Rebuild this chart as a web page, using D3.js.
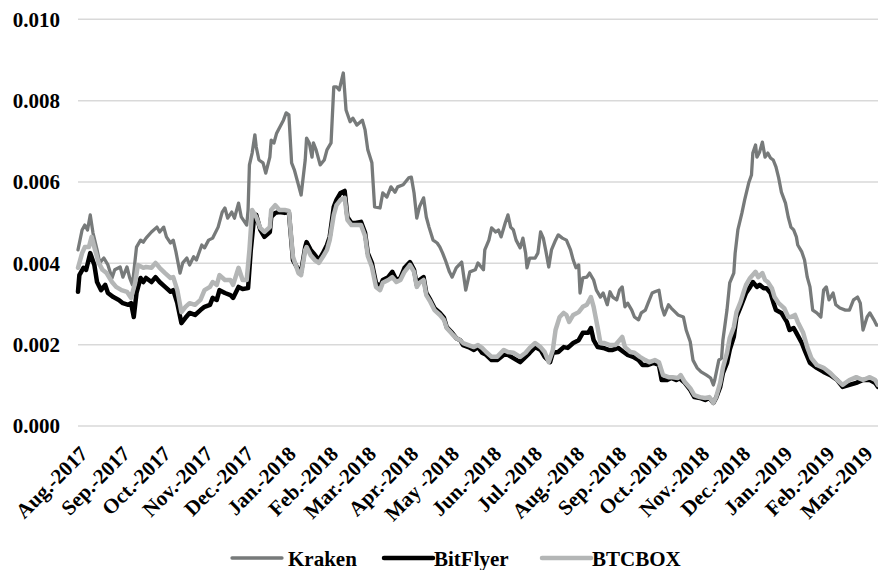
<!DOCTYPE html>
<html>
<head>
<meta charset="utf-8">
<script src="https://cdn.jsdelivr.net/npm/d3@7"></script>
<style>
  body { margin: 0; background: #fff; }
  text { font-family: "Liberation Serif", "Times New Roman", serif; font-weight: bold; fill: #000; }
</style>
</head>
<body>
<svg id="chart" width="878" height="570"></svg>
<script>
// day offsets counted from 1 Aug 2017
var krakenDays = [0,3,5,7,9,11,14,16,19,22,25,27,31,33,36,38,40,43,46,48,50,54,58,60,63,65,68,70,72,75,77,80,82,85,87,91,93,96,99,103,106,108,110,113,115,118,120,124,125,126,128,130,131,133,136,138,141,142,144,146,148,151,153,155,157,159,162,164,167,168,170,172,173,175,178,181,183,186,188,190,192,195,197,200,202,205,209,211,213,216,218,222,224,227,230,233,235,239,243,245,247,249,251,254,256,258,261,264,266,268,270,273,275,278,282,285,288,292,294,298,299,302,304,307,309,311,314,316,318,320,322,325,327,329,330,332,336,338,340,342,344,346,348,351,353,356,359,362,364,366,368,369,371,374,376,379,381,384,386,389,391,393,396,398,400,402,404,407,409,412,414,417,419,422,424,427,429,431,434,436,439,441,445,447,450,452,455,458,462,465,467,468,471,473,474,477,479,482,483,485,488,490,493,495,496,498,499,501,503,505,507,509,511,513,515,517,520,522,524,526,528,529,532,534,536,538,540,543,546,548,550,552,555,557,560,564,567,570,573,575,577,580,582,585,587,588];
var krakenValues = [0.00433,0.00482,0.00494,0.00482,0.00519,0.00475,0.00433,0.00401,0.00413,0.00396,0.00364,0.00384,0.00391,0.00366,0.00391,0.00364,0.00347,0.00440,0.00457,0.00452,0.00462,0.00477,0.00489,0.00477,0.00489,0.00465,0.00450,0.00457,0.00428,0.00376,0.00401,0.00413,0.00396,0.00416,0.00408,0.00445,0.00438,0.00457,0.00462,0.00489,0.00526,0.00536,0.00511,0.00526,0.00511,0.00548,0.00514,0.00494,0.00531,0.00642,0.00671,0.00716,0.00686,0.00654,0.00647,0.00622,0.00661,0.00703,0.00696,0.00720,0.00733,0.00752,0.00770,0.00765,0.00647,0.00630,0.00593,0.00568,0.00654,0.00708,0.00696,0.00661,0.00696,0.00679,0.00642,0.00654,0.00679,0.00696,0.00834,0.00834,0.00826,0.00868,0.00777,0.00748,0.00757,0.00740,0.00752,0.00728,0.00679,0.00647,0.00539,0.00536,0.00573,0.00563,0.00588,0.00575,0.00588,0.00593,0.00610,0.00612,0.00573,0.00511,0.00539,0.00561,0.00514,0.00489,0.00457,0.00450,0.00440,0.00425,0.00408,0.00379,0.00366,0.00389,0.00403,0.00334,0.00379,0.00384,0.00401,0.00384,0.00433,0.00457,0.00487,0.00477,0.00482,0.00465,0.00499,0.00519,0.00489,0.00482,0.00457,0.00438,0.00462,0.00425,0.00389,0.00413,0.00413,0.00425,0.00477,0.00462,0.00428,0.00391,0.00433,0.00457,0.00470,0.00462,0.00457,0.00433,0.00408,0.00389,0.00396,0.00327,0.00364,0.00366,0.00376,0.00359,0.00334,0.00317,0.00327,0.00298,0.00330,0.00317,0.00310,0.00334,0.00342,0.00293,0.00302,0.00285,0.00268,0.00261,0.00278,0.00285,0.00302,0.00327,0.00330,0.00334,0.00293,0.00273,0.00298,0.00290,0.00280,0.00273,0.00268,0.00236,0.00207,0.00162,0.00143,0.00133,0.00125,0.00118,0.00101,0.00113,0.00162,0.00167,0.00211,0.00285,0.00352,0.00376,0.00425,0.00482,0.00524,0.00556,0.00598,0.00617,0.00671,0.00691,0.00661,0.00674,0.00698,0.00661,0.00671,0.00659,0.00654,0.00637,0.00610,0.00575,0.00548,0.00514,0.00489,0.00482,0.00465,0.00445,0.00428,0.00408,0.00366,0.00342,0.00285,0.00278,0.00268,0.00334,0.00342,0.00310,0.00327,0.00298,0.00290,0.00285,0.00285,0.00310,0.00317,0.00302,0.00236,0.00268,0.00278,0.00261,0.00248,0.00248];

var bitflyerDays = [0,1,4,6,9,12,14,17,20,22,26,30,33,37,39,41,43,46,48,50,54,57,60,64,68,70,73,76,79,82,86,90,93,97,99,102,104,108,112,114,118,121,125,127,129,131,134,137,141,142,145,148,152,155,158,162,164,167,168,171,174,177,180,183,185,188,190,193,196,198,201,204,208,211,213,216,219,222,224,228,231,234,237,240,244,247,249,251,254,256,259,262,266,269,271,275,278,281,283,287,291,294,297,300,304,308,313,316,320,325,329,332,336,340,343,347,349,353,357,360,364,368,371,375,377,379,382,386,390,393,397,401,404,408,412,415,419,423,427,429,433,436,440,442,446,450,453,457,461,464,467,469,472,474,477,479,482,484,487,489,491,494,496,499,501,504,506,509,511,513,517,521,523,526,528,532,534,538,543,548,553,558,562,567,572,577,582,586,588];
var bitflyerValues = [0.00330,0.00371,0.00389,0.00384,0.00425,0.00396,0.00354,0.00334,0.00347,0.00327,0.00317,0.00310,0.00302,0.00298,0.00302,0.00268,0.00327,0.00364,0.00354,0.00364,0.00354,0.00366,0.00354,0.00342,0.00330,0.00334,0.00302,0.00253,0.00266,0.00278,0.00273,0.00285,0.00293,0.00298,0.00315,0.00310,0.00334,0.00327,0.00322,0.00315,0.00342,0.00337,0.00339,0.00433,0.00499,0.00519,0.00482,0.00465,0.00477,0.00514,0.00524,0.00526,0.00524,0.00526,0.00408,0.00384,0.00379,0.00440,0.00452,0.00433,0.00421,0.00408,0.00425,0.00445,0.00465,0.00539,0.00556,0.00573,0.00578,0.00514,0.00499,0.00499,0.00502,0.00475,0.00425,0.00401,0.00352,0.00342,0.00359,0.00366,0.00379,0.00359,0.00364,0.00389,0.00403,0.00384,0.00347,0.00359,0.00366,0.00327,0.00310,0.00290,0.00278,0.00266,0.00243,0.00229,0.00216,0.00211,0.00199,0.00194,0.00187,0.00194,0.00180,0.00175,0.00162,0.00162,0.00175,0.00175,0.00167,0.00157,0.00170,0.00180,0.00194,0.00187,0.00170,0.00157,0.00180,0.00182,0.00194,0.00192,0.00204,0.00211,0.00229,0.00229,0.00241,0.00211,0.00194,0.00192,0.00187,0.00187,0.00192,0.00182,0.00175,0.00170,0.00162,0.00150,0.00150,0.00155,0.00150,0.00113,0.00113,0.00118,0.00113,0.00118,0.00106,0.00089,0.00071,0.00069,0.00064,0.00069,0.00057,0.00069,0.00096,0.00130,0.00155,0.00187,0.00219,0.00268,0.00293,0.00310,0.00327,0.00342,0.00354,0.00342,0.00347,0.00339,0.00339,0.00327,0.00305,0.00285,0.00278,0.00256,0.00236,0.00241,0.00229,0.00204,0.00187,0.00155,0.00143,0.00133,0.00125,0.00113,0.00096,0.00101,0.00106,0.00113,0.00113,0.00106,0.00096];

var btcboxDays = [0,3,5,8,10,12,15,18,21,25,28,32,36,39,42,44,48,50,54,57,60,64,68,70,73,76,79,82,86,90,93,97,99,102,104,108,112,114,118,121,124,126,128,131,134,137,141,142,145,148,152,155,158,162,164,167,168,171,174,177,180,183,185,188,190,193,196,198,201,204,208,211,213,216,219,222,224,228,231,234,237,240,244,247,249,251,254,256,259,262,266,269,271,275,278,281,283,287,291,294,297,300,304,308,313,316,320,325,329,332,336,340,343,346,349,351,354,357,359,361,364,368,371,374,377,379,382,384,387,391,395,398,400,402,406,409,413,417,420,424,427,430,434,437,441,443,446,450,453,457,461,464,467,469,472,474,477,479,482,484,487,489,491,494,498,500,503,505,507,510,512,515,519,522,524,527,529,533,536,539,543,548,553,558,562,567,572,577,582,586,588];
var btcboxValues = [0.00389,0.00425,0.00440,0.00440,0.00465,0.00440,0.00403,0.00384,0.00376,0.00354,0.00342,0.00334,0.00330,0.00315,0.00352,0.00396,0.00389,0.00391,0.00389,0.00401,0.00389,0.00376,0.00364,0.00366,0.00334,0.00280,0.00293,0.00302,0.00298,0.00310,0.00334,0.00342,0.00354,0.00347,0.00371,0.00359,0.00359,0.00347,0.00389,0.00359,0.00359,0.00433,0.00531,0.00514,0.00487,0.00477,0.00489,0.00531,0.00543,0.00531,0.00531,0.00529,0.00416,0.00376,0.00371,0.00433,0.00440,0.00420,0.00408,0.00401,0.00416,0.00433,0.00457,0.00519,0.00543,0.00556,0.00561,0.00507,0.00494,0.00494,0.00494,0.00467,0.00418,0.00391,0.00342,0.00334,0.00352,0.00359,0.00366,0.00354,0.00359,0.00379,0.00396,0.00379,0.00342,0.00352,0.00359,0.00322,0.00305,0.00285,0.00273,0.00261,0.00241,0.00226,0.00216,0.00211,0.00204,0.00199,0.00194,0.00199,0.00192,0.00182,0.00170,0.00170,0.00187,0.00182,0.00180,0.00170,0.00180,0.00192,0.00204,0.00194,0.00182,0.00157,0.00187,0.00236,0.00268,0.00278,0.00273,0.00256,0.00273,0.00280,0.00293,0.00298,0.00317,0.00293,0.00241,0.00204,0.00204,0.00199,0.00199,0.00211,0.00219,0.00194,0.00182,0.00180,0.00170,0.00162,0.00157,0.00162,0.00157,0.00125,0.00120,0.00120,0.00118,0.00125,0.00108,0.00093,0.00076,0.00071,0.00069,0.00071,0.00057,0.00071,0.00106,0.00143,0.00180,0.00216,0.00243,0.00280,0.00305,0.00327,0.00347,0.00364,0.00379,0.00366,0.00376,0.00359,0.00354,0.00339,0.00317,0.00302,0.00290,0.00268,0.00268,0.00273,0.00256,0.00229,0.00194,0.00167,0.00150,0.00143,0.00130,0.00113,0.00101,0.00113,0.00120,0.00113,0.00120,0.00113,0.00101];

var monthLabels = ["Aug.-2017","Sep.-2017","Oct.-2017","Nov.-2017","Dec.-2017","Jan.-2018","Feb.-2018","Mar.-2018","Apr.-2018","May -2018","Jun.-2018","Jul.-2018","Aug.-2018","Sep.-2018","Oct.-2018","Nov.-2018","Dec.-2018","Jan.-2019","Feb.-2019","Mar.-2019"];
var yTicks = [0, 0.002, 0.004, 0.006, 0.008, 0.010];

var seriesNames = ["Kraken", "BitFlyer", "BTCBOX"];
var seriesColors = ["#777a7a", "#000000", "#b4b6b6"];
var seriesWidths = [3.3, 4.5, 4.5];

var startDate = new Date(2017, 7, 1);
function dayToDate(d) { return d3.timeDay.offset(startDate, d); }

var svg = d3.select('#chart');

var x = d3.scaleTime().domain([startDate, dayToDate(588)]).range([78, 878]);
var y = d3.scaleLinear().domain([0, 0.010]).range([426, 19.3]);

// gridlines
svg.append('g').selectAll('line')
    .data(yTicks)
    .enter().append('line')
    .attr('x1', 78).attr('x2', 878)
    .attr('y1', function(d){ return y(d); })
    .attr('y2', function(d){ return y(d); })
    .attr('stroke', '#d9d9d9')
    .attr('stroke-width', 1.5);

// y labels
svg.append('g').selectAll('text')
    .data(yTicks)
    .enter().append('text')
    .attr('x', 60)
    .attr('y', function(d){ return y(d); })
    .attr('dy', '0.35em')
    .attr('text-anchor', 'end')
    .style('font-size', '21px')
    .text(d3.format('.3f'));

// x labels, rotated
svg.append('g').selectAll('text')
    .data(monthLabels)
    .enter().append('text')
    .attr('transform', function(d, i){
        var tx = x(d3.timeMonth.offset(startDate, i)) + 11;
        return 'translate(' + tx + ',455)rotate(-45)';
    })
    .attr('text-anchor', 'end')
    .style('font-size', '21px')
    .text(function(d){ return d; });

var makeLine = d3.line()
    .x(function(d){ return x(dayToDate(d[0])); })
    .y(function(d){ return y(d[1]); });

var series = [
    d3.zip(krakenDays, krakenValues),
    d3.zip(bitflyerDays, bitflyerValues),
    d3.zip(btcboxDays, btcboxValues)
];

series.forEach(function(s, i){
    svg.append('path')
        .datum(s)
        .attr('d', makeLine)
        .attr('fill', 'none')
        .attr('stroke', seriesColors[i])
        .attr('stroke-width', seriesWidths[i])
        .attr('stroke-linejoin', 'round')
        .attr('stroke-linecap', 'round');
});

// legend
var legendX = [232, 384, 542];
var legend = svg.append('g').selectAll('g')
    .data(seriesNames)
    .enter().append('g')
    .attr('transform', function(d, i){ return 'translate(' + legendX[i] + ',558)'; });

legend.append('line')
    .attr('x1', 0).attr('x2', function(d, i){ return i === 0 ? 50 : 49; })
    .attr('y1', 0).attr('y2', 0)
    .attr('stroke', function(d, i){ return seriesColors[i]; })
    .attr('stroke-width', function(d, i){ return seriesWidths[i]; })
    .attr('stroke-linecap', 'round');

legend.append('text')
    .attr('x', function(d, i){ return i === 0 ? 56 : 50; })
    .attr('y', 8)
    .style('font-size', '21px')
    .text(function(d){ return d; });
</script>
</body>
</html>
